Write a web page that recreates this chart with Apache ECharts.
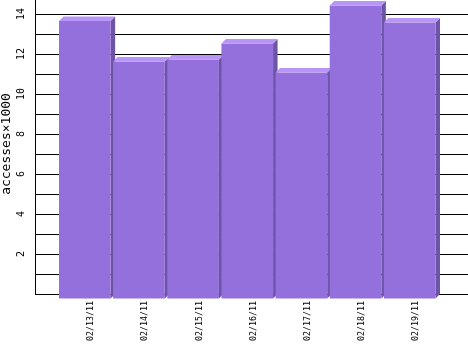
<!DOCTYPE html>
<html>
<head>
<meta charset="utf-8">
<script src="https://cdn.jsdelivr.net/npm/echarts@6/dist/echarts.min.js"></script>
<style>html,body{margin:0;padding:0;background:#fff}#c{width:468px;height:351px}</style>
</head>
<body>
<div id="c"></div>
<script>
const categories = ['02/13/11','02/14/11','02/15/11','02/16/11','02/17/11','02/18/11','02/19/11'];
const accesses = [13.87, 11.85, 11.95, 12.75, 11.3, 14.65, 13.8];
const yTickLabels = [2, 4, 6, 8, 10, 12, 14];
const yName = 'accesses\u00d71000';

const FRONT = '#9370DB', TOP = '#B995F7', SIDE = '#6E54A6';
const chart = echarts.init(document.getElementById('c'), null, {renderer:'canvas'});
const gTop = -6, gBottom = 57;
const yBase = {type:'value', min:0, max:15, interval:1};
const gridBase = {top:gTop, bottom:gBottom, containLabel:false, outerBoundsMode:'none'};
chart.setOption({
  animation:false,
  grid:[
    Object.assign({left:35, right:0}, gridBase),
    Object.assign({left:59, right:30}, gridBase),
    Object.assign({left:64, right:25}, gridBase)
  ],
  xAxis:[
    {gridIndex:0, type:'value', min:0, max:1, show:false},
    {gridIndex:1, type:'category', data:categories, show:false},
    {gridIndex:2, type:'category', data:categories,
      axisLine:{show:false}, axisTick:{show:false},
      axisLabel:{rotate:90, margin:7, interval:0, color:'#000', fontFamily:'DejaVu Sans Mono', fontSize:8.3}}
  ],
  yAxis:[
    Object.assign({gridIndex:0,
      name:yName, nameLocation:'middle', nameGap:22, nameRotate:90, nameMoveOverlap:false,
      nameTextStyle:{color:'#000', fontFamily:'DejaVu Sans Mono', fontSize:13},
      axisLine:{show:true, lineStyle:{color:'#000', width:1}},
      axisTick:{show:false},
      splitLine:{show:true, lineStyle:{color:'#000', width:1}},
      axisLabel:{rotate:90, margin:9, color:'#000', fontFamily:'DejaVu Sans Mono', fontSize:10,
        showMinLabel:false, showMaxLabel:false,
        formatter: v => yTickLabels.indexOf(v) >= 0 ? String(v) : ''}
    }, yBase),
    Object.assign({gridIndex:1, show:false}, yBase),
    Object.assign({gridIndex:2, show:false}, yBase)
  ],
  series:[{
    type:'custom', xAxisIndex:1, yAxisIndex:1, clip:false,
    data: accesses.map((v, i) => [i, v]),
    renderItem(params, api){
      const i = api.value(0), v = api.value(1);
      const p = api.coord([i, v]);
      const p0 = api.coord([i, 0]);
      const bw = api.size([1, 0])[0];
      const d = 4.5;
      const x0 = p[0] - bw/2;
      const w = bw - 2.5;
      const yt = p[1], yb = p0[1];
      return {type:'group', children:[
        {type:'polygon', shape:{points:[[x0+w, yt+d],[x0+w+d, yt],[x0+w+d, yb],[x0+w, yb+d]]}, style:{fill:SIDE}},
        {type:'rect', shape:{x:x0, y:yt+d, width:w, height:yb-yt}, style:{fill:FRONT}},
        {type:'polygon', shape:{points:[[x0, yt+d],[x0+d, yt],[x0+w+d, yt],[x0+w, yt+d]]}, style:{fill:TOP}}
      ]};
    }
  }]
});
</script>
</body>
</html>
